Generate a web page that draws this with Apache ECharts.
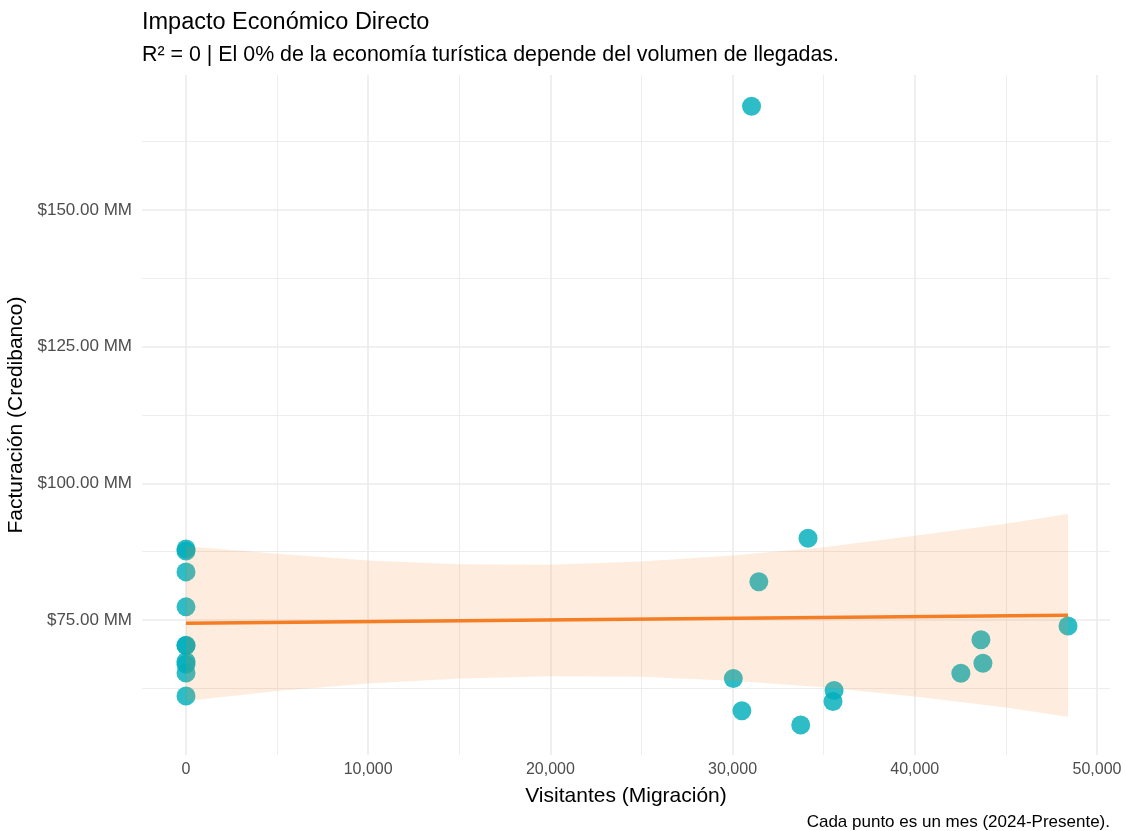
<!DOCTYPE html>
<html>
<head>
<meta charset="utf-8">
<title>Impacto Económico Directo</title>
<script src="https://cdn.jsdelivr.net/npm/echarts@6/dist/echarts.min.js"></script>
<style>
  html, body { margin: 0; padding: 0; background: #ffffff; }
  #chart { width: 1126px; height: 831px; }
</style>
</head>
<body>
<div id="chart"></div>
<script>
// visitantes por mes (Migración) y facturación en millones (Credibanco)
const visitantes = [0, 0, 0, 0, 0, 0, 0, 0, 0, 0,
  34140, 31440, 30040, 30510, 33740, 35570, 35510, 43630, 43740, 42530, 48410, 31040]
const facturacion = [88.0, 87.6, 83.8, 77.4, 70.4, 70.3, 67.4, 66.9, 65.3, 61.1,
  89.95, 82.0, 64.3, 58.4, 55.8, 62.1, 60.1, 71.4, 67.1, 65.25, 73.9, 169.0]

// recta de ajuste (lm)
const ajusteX = [0, 48410]
const ajusteY = [74.4, 75.85]

// banda de confianza
const bandaX = [0, 5000, 10000, 15000, 20000, 25000, 30000, 35000, 40000, 45000, 48410]
const bandaSup = [88.5, 87.1, 85.9, 85.2, 85.1, 85.7, 86.8, 88.3, 90.4, 92.6, 94.4]
const bandaInf = [60.2, 62.0, 63.4, 64.3, 64.7, 64.6, 63.9, 62.7, 61.0, 59.0, 57.3]

const titulo = 'Impacto Económico Directo'
const subtitulo = 'R² = 0 | El 0% de la economía turística depende del volumen de llegadas.'
const nota = 'Cada punto es un mes (2024-Presente).'

const FONT = '"Liberation Sans", Arial, Helvetica, sans-serif'
const gridColor = '#EBEBEB'

const chart = echarts.init(document.getElementById('chart'), null, { renderer: 'canvas' })

const puntos = visitantes.map((v, i) => [v, facturacion[i]])
const ajuste = ajusteX.map((v, i) => [v, ajusteY[i]])

chart.setOption({
  animation: false,
  textStyle: { fontFamily: FONT },
  title: [
    {
      text: titulo,
      left: 142,
      top: 11,
      padding: 0,
      textStyle: { fontFamily: FONT, fontSize: 23.5, fontWeight: 'normal', color: '#000' }
    },
    {
      text: subtitulo,
      left: 142,
      top: 45,
      padding: 0,
      textStyle: { fontFamily: FONT, fontSize: 21.4, fontWeight: 'normal', color: '#000' }
    },
    {
      text: nota,
      right: 16,
      bottom: 0,
      padding: 0,
      textStyle: { fontFamily: FONT, fontSize: 17, fontWeight: 'normal', color: '#000' }
    }
  ],
  grid: {
    left: 142,
    right: 16,
    top: 75,
    bottom: 76,
    containLabel: false,
    outerBoundsMode: 'none'
  },
  xAxis: {
    type: 'value',
    min: -2415,
    max: 50715,
    minInterval: 10000,
    maxInterval: 10000,
    name: 'Visitantes (Migración)',
    nameLocation: 'middle',
    nameGap: 31,
    nameTextStyle: { fontFamily: FONT, fontSize: 21, color: '#000' },
    axisLine: { show: false },
    axisTick: { show: false },
    axisLabel: {
      margin: 7,
      fontFamily: FONT,
      fontSize: 16,
      color: '#4D4D4D',
      formatter: v => (v % 10000 === 0 ? v.toLocaleString('en-US') : '')
    },
    splitLine: {
      show: true,
      showMinLine: false,
      showMaxLine: false,
      lineStyle: { color: gridColor, width: 1.6 }
    },
    minorTick: { show: false, splitNumber: 2 },
    minorSplitLine: { show: true, lineStyle: { color: gridColor, width: 0.9 } }
  },
  yAxis: {
    type: 'value',
    min: 50.3,
    max: 174.7,
    minInterval: 25,
    maxInterval: 25,
    name: 'Facturación (Credibanco)',
    nameLocation: 'middle',
    nameRotate: 90,
    nameGap: 107,
    nameTextStyle: { fontFamily: FONT, fontSize: 21, color: '#000' },
    axisLine: { show: false },
    axisTick: { show: false },
    axisLabel: {
      margin: 10,
      fontFamily: FONT,
      fontSize: 17,
      color: '#4D4D4D',
      formatter: v => (v % 25 === 0 ? '$' + v.toFixed(2) + ' MM' : '')
    },
    splitLine: {
      show: true,
      showMinLine: false,
      showMaxLine: false,
      lineStyle: { color: gridColor, width: 1.6 }
    },
    minorTick: { show: false, splitNumber: 2 },
    minorSplitLine: { show: true, lineStyle: { color: gridColor, width: 0.9 } }
  },
  series: [
    {
      type: 'scatter',
      z: 2,
      data: puntos,
      symbolSize: 19,
      itemStyle: { color: '#00AFBB', opacity: 0.82 }
    },
    {
      // banda de confianza, por encima de los puntos como en ggplot
      type: 'custom',
      z: 3,
      silent: true,
      data: [[bandaX[0], bandaSup[0]]],
      renderItem: (params, api) => {
        const sup = bandaX.map((x, i) => api.coord([x, bandaSup[i]]))
        const inf = bandaX.map((x, i) => api.coord([x, bandaInf[i]])).reverse()
        return {
          type: 'polygon',
          shape: { points: sup.concat(inf) },
          style: { fill: '#F57D24', opacity: 0.15 }
        }
      }
    },
    {
      type: 'line',
      z: 4,
      silent: true,
      data: ajuste,
      symbol: 'none',
      lineStyle: { color: '#F57D24', width: 3.5 }
    }
  ]
})
</script>
</body>
</html>
